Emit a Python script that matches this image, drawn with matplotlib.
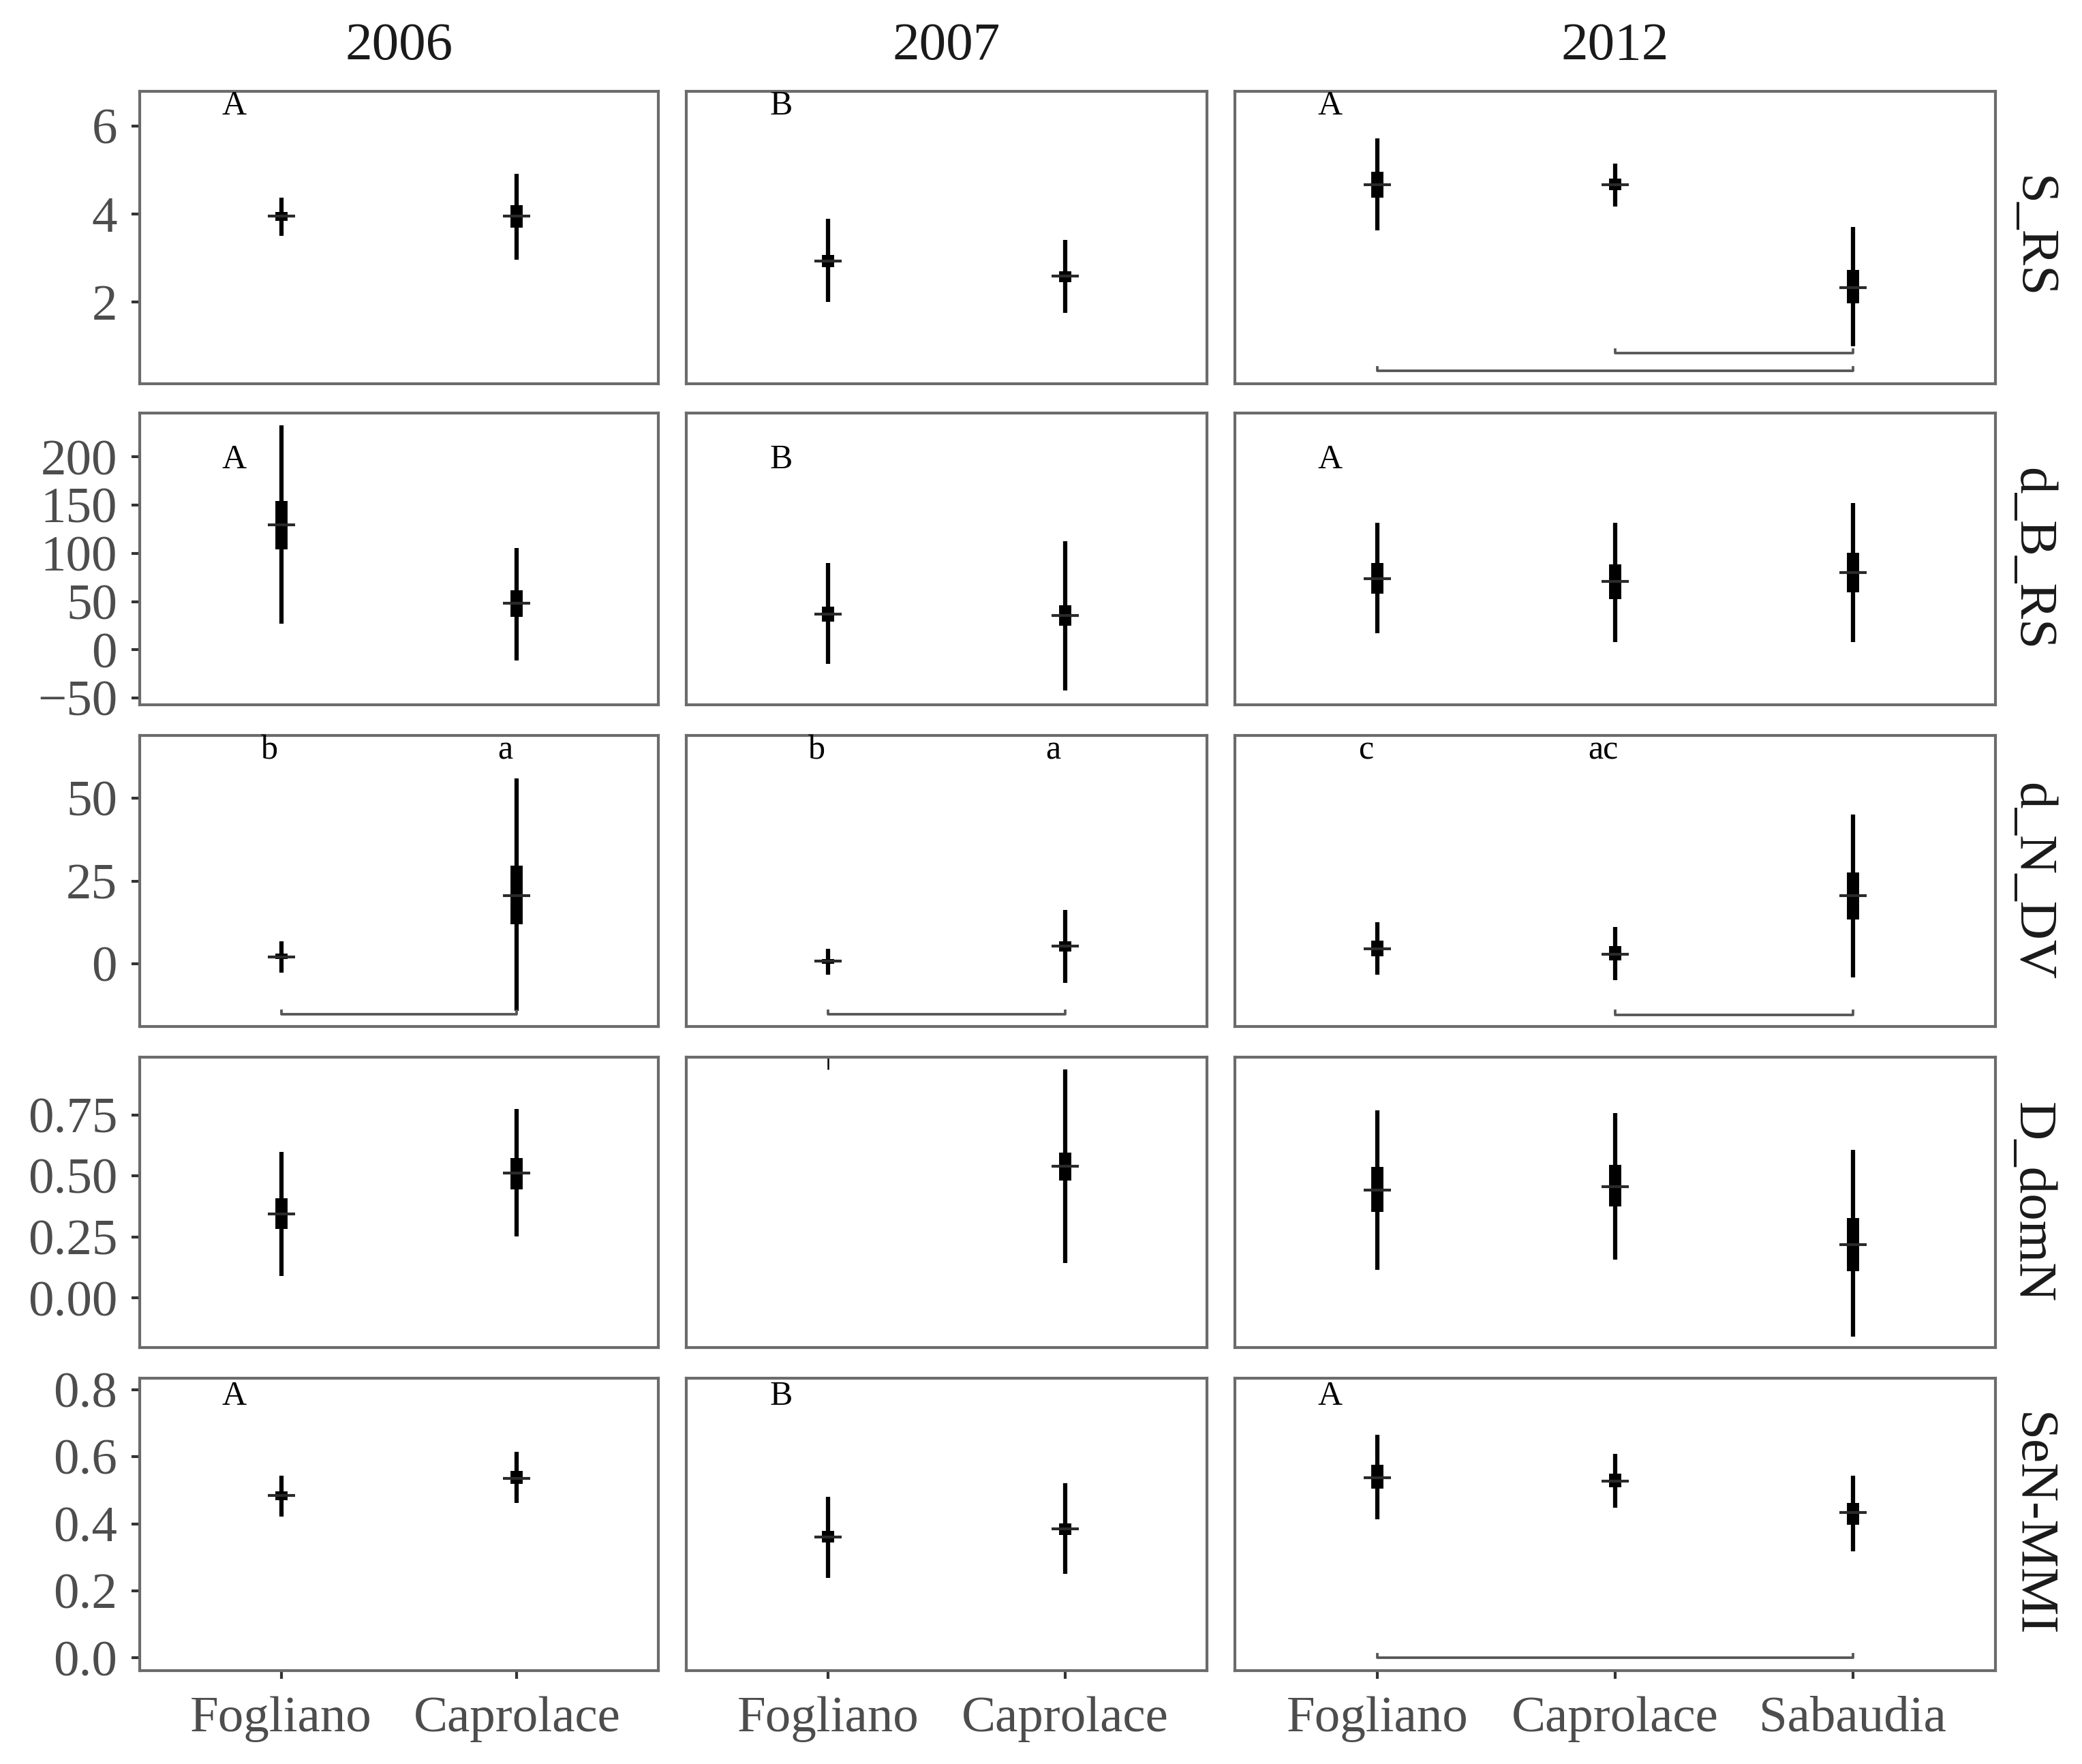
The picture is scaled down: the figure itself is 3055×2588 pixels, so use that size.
import numpy as np
import matplotlib.pyplot as plt
from matplotlib.ticker import FuncFormatter

plt.rcParams['font.family'] = ['Liberation Serif', 'DejaVu Serif']

# Daten: Median, inneres Intervall, aeusseres Intervall je Jahr und Standort
years = ['2006', '2007', '2012']
sites = [['Fogliano', 'Caprolace'],
         ['Fogliano', 'Caprolace'],
         ['Fogliano', 'Caprolace', 'Sabaudia']]
metrics = ['S_RS', 'd_B_RS', 'd_N_DV', 'D_domN', 'SeN-MMI']

s_rs_med = [[3.95, 3.95], [2.94, 2.59], [4.67, 4.67, 2.34]]
s_rs_in = [[(3.85, 4.05), (3.69, 4.21)], [(2.79, 3.08), (2.46, 2.71)],
           [(4.38, 4.97), (4.54, 4.81), (1.97, 2.74)]]
s_rs_out = [[(3.51, 4.38), (2.96, 4.92)], [(2.0, 3.9), (1.76, 3.41)],
            [(3.63, 5.72), (4.18, 5.15), (1.0, 3.71)]]

d_b_med = [[129.9, 48.1], [36.9, 35.3], [73.8, 70.8, 80.1]]
d_b_in = [[(104.2, 154.4), (34.1, 62.1)], [(29.4, 44.6), (24.8, 46.5)],
          [(58.2, 90.2), (52.8, 88.6), (59.8, 100.7)]]
d_b_out = [[(27.1, 232.7), (-11.0, 105.8)], [(-14.3, 90.2), (-42.3, 112.9)],
           [(17.3, 131.5), (7.9, 131.5), (7.9, 152.1)]]

d_n_med = [[2.0, 20.6], [0.7, 5.3], [4.5, 2.9, 20.6]]
d_n_in = [[(1.4, 3.1), (11.9, 29.6)], [(0.0, 1.4), (3.7, 6.8)],
          [(2.3, 6.9), (1.0, 5.3), (13.4, 27.6)]]
d_n_out = [[(-2.7, 6.8), (-14.3, 56.1)], [(-3.4, 4.4), (-5.8, 16.3)],
           [(-3.3, 12.5), (-4.9, 11.1), (-4.2, 45.1)]]

d_dom_med = [[0.344, 0.511], [np.nan, 0.539], [0.442, 0.456, 0.219]]
d_dom_in = [[(0.282, 0.408), (0.445, 0.573)], [(np.nan, np.nan), (0.480, 0.596)],
            [(0.353, 0.536), (0.376, 0.544), (0.109, 0.328)]]
d_dom_out = [[(0.091, 0.599), (0.251, 0.774)], [(0.935, 0.99), (0.143, 0.937)],
             [(0.115, 0.767), (0.157, 0.758), (-0.158, 0.607)]]

sen_med = [[0.485, 0.536], [0.361, 0.384], [0.538, 0.528, 0.433]]
sen_in = [[(0.470, 0.496), (0.519, 0.557)], [(0.344, 0.378), (0.367, 0.401)],
          [(0.505, 0.575), (0.509, 0.550), (0.398, 0.462)]]
sen_out = [[(0.422, 0.543), (0.462, 0.614)], [(0.238, 0.481), (0.251, 0.521)],
           [(0.414, 0.665), (0.447, 0.608), (0.317, 0.544)]]

medians = [s_rs_med, d_b_med, d_n_med, d_dom_med, sen_med]
inner = [s_rs_in, d_b_in, d_n_in, d_dom_in, sen_in]
outer = [s_rs_out, d_b_out, d_n_out, d_dom_out, sen_out]

y_ticks = [[2, 4, 6], [-50, 0, 50, 100, 150, 200], [0, 25, 50],
           [0, 0.25, 0.5, 0.75], [0, 0.2, 0.4, 0.6, 0.8]]
y_fmt = ['{:.0f}', '{:.0f}', '{:.0f}', '{:.2f}', '{:.1f}']
y_lims = [(0.15, 6.79), (-57, 245.6), (-19, 69), (-0.203, 0.986), (-0.038, 0.834)]

# Buchstaben (Gruppenunterschiede), x in Datenkoordinaten
letters = [[['A'], ['B'], ['A']], [['A'], ['B'], ['A']],
           [['b', 'a'], ['b', 'a'], ['c', 'ac']], [[], [], []],
           [['A'], ['B'], ['A']]]
letter_y = [6.45, 197, 64.5, 0, 0.78]
letter_x_upper = [0.8]
letter_x_lower = [0.95, 1.95]

# Klammern: (Zeile, Spalte, Standort i, Standort j, y)
brackets = [(0, 2, 0, 2, 0.44), (0, 2, 1, 2, 0.84),
            (2, 0, 0, 1, -15.3), (2, 1, 0, 1, -15.3), (2, 2, 1, 2, -15.4),
            (4, 2, 0, 2, 0.0)]

W, H = 3055, 2588
fig = plt.figure(figsize=(W / 300, H / 300), dpi=300)

col_x = [(205, 966), (1007, 1771), (1812, 2928)]
row_y = [(134, 563), (606, 1034), (1079, 1506), (1551, 1977), (2022, 2451)]

border = '#6b6b6b'
for r in range(5):
    for c in range(3):
        x0, x1 = col_x[c]
        y0, y1 = row_y[r]
        ax = fig.add_axes([x0 / W, 1 - y1 / H, (x1 - x0) / W, (y1 - y0) / H])
        n = len(sites[c])
        ax.set_xlim(0.4, n + 0.6)
        ax.set_ylim(*y_lims[r])
        for s in ax.spines.values():
            s.set_color(border)
            s.set_linewidth(1.0)

        for k in range(n):
            x = k + 1
            med = medians[r][c][k]
            lo, hi = outer[r][c][k]
            lw_out = 1.5 if not np.isnan(med) else 0.6
            ax.plot([x, x], [lo, hi], color='black', lw=lw_out, solid_capstyle='butt')
            ilo, ihi = inner[r][c][k]
            if not np.isnan(ilo):
                ax.plot([x, x], [ilo, ihi], color='black', lw=4.3, solid_capstyle='butt')
            if not np.isnan(med):
                ax.plot(x, med, marker='_', ms=9.5, mew=1.0, color='#2a2a2a')

        # Klammern
        for (br, bc, i, j, yb) in brackets:
            if br == r and bc == c:
                h = 0.012 * (y_lims[r][1] - y_lims[r][0])
                ax.plot([i + 1, i + 1, j + 1, j + 1], [yb + h, yb, yb, yb + h],
                        color='#555555', lw=0.9)

        # Buchstaben
        labs = letters[r][c]
        xs = letter_x_upper if len(labs) == 1 else letter_x_lower
        for lab, xl in zip(labs, xs):
            ax.text(xl, letter_y[r], lab, ha='center', va='center',
                    fontsize=12, color='black')

        ax.tick_params(colors='#333333', length=2.9, width=1.0,
                       labelsize=18, labelcolor='#4D4D4D', pad=5)
        if c == 0:
            ax.set_yticks(y_ticks[r])
            fmt = y_fmt[r]
            ax.yaxis.set_major_formatter(
                FuncFormatter(lambda v, p, f=fmt: f.format(v).replace('-', '\u2212')))
        else:
            ax.set_yticks([])
        if r == 4:
            ax.set_xticks(range(1, n + 1))
            ax.set_xticklabels(sites[c])
            ax.tick_params(axis='x', pad=6)
        else:
            ax.set_xticks([])

# Streifen oben (Jahre) und rechts (Indizes)
for c, yr in enumerate(years):
    xc = (col_x[c][0] + col_x[c][1]) / 2 / W
    fig.text(xc, 1 - 68 / H, yr, ha='center', va='center', fontsize=19, color='#1a1a1a')
for r, m in enumerate(metrics):
    yc = 1 - (row_y[r][0] + row_y[r][1]) / 2 / H
    fig.text(2981 / W, yc, m, rotation=-90, ha='center', va='center',
             fontsize=19, color='#1a1a1a')

fig.savefig('out.png', dpi=300, facecolor='white')
